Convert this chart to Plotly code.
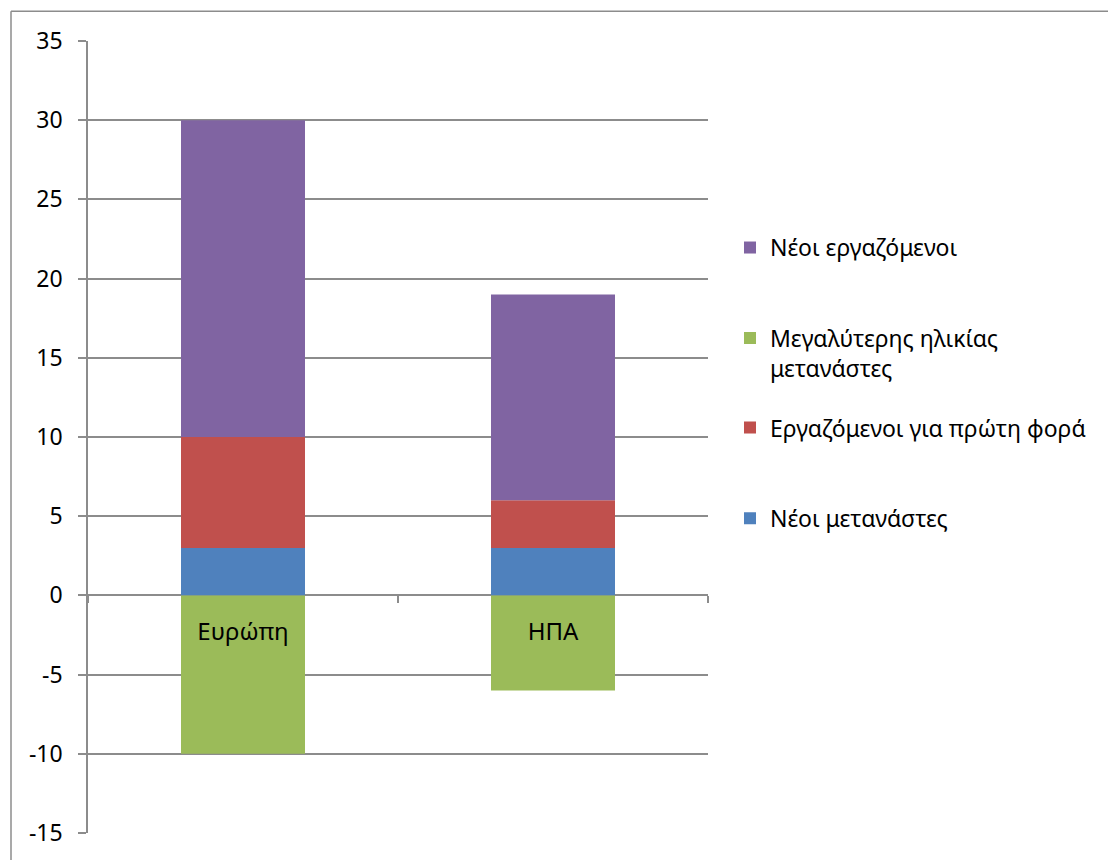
import plotly.graph_objects as go

categories = ["Ευρώπη", "ΗΠΑ"]
series_names = ["Νέοι μετανάστες", "Εργαζόμενοι για πρώτη φορά",
                "Μεγαλύτερης ηλικίας<br>μετανάστες", "Νέοι εργαζόμενοι"]
new_migrants = [3, 3]
first_time_workers = [7, 3]
older_migrants = [-10, -6]
young_workers = [20, 13]
colors = ["#4F81BD", "#C0504D", "#9BBB59", "#8064A2"]
y_ticks = [-15, -10, -5, 0, 5, 10, 15, 20, 25, 30, 35]
y_tick_text = ["-15", "-10", "-5", "0", "5", "10", "15", "20", "25", "30", "35"]

values = [new_migrants, first_time_workers, older_migrants, young_workers]

FONT = "Noto Sans"
L, R, T, B = 88, 400, 41, 23
W, H = 1108, 860
pw = W - L - R
ph = H - T - B
GRID = "#8c8c8c"

# one legend box per series (pixel top of each entry)
legend_ids = ["legend4", "legend3", "legend2", "legend"]
legend_tops = [499, 408, 318, 227]

fig = go.Figure()
for name, vals, col, lid in zip(series_names, values, colors, legend_ids):
    fig.add_trace(go.Bar(x=categories, y=vals, name=name, marker_color=col,
                         marker_line_width=0, legend=lid))

legend_layouts = {}
for lid, top in zip(legend_ids, legend_tops):
    legend_layouts[lid] = dict(x=(730 - L) / pw, y=(ph - (top - T)) / ph,
                               xanchor="left", yanchor="top", valign="top",
                               font=dict(size=23, family=FONT), itemwidth=30,
                               bgcolor="rgba(0,0,0,0)")

fig.update_layout(
    width=W, height=H,
    barmode="relative", bargap=0.6,
    margin=dict(l=L, r=R, t=T, b=B),
    paper_bgcolor="white", plot_bgcolor="white",
    font=dict(family=FONT, color="black", size=20),
    showlegend=True,
    xaxis=dict(type="category", anchor="free", position=15 / 50,
               categoryarray=categories, range=[-0.5, 1.5],
               showline=True, linecolor=GRID, linewidth=1.5,
               ticks="outside", ticklen=7, tickcolor=GRID, tickwidth=1.5,
               tickson="boundaries", showgrid=False, layer="below traces",
               showticklabels=False),
    xaxis2=dict(type="category", overlaying="x", anchor="free", position=15 / 50,
                categoryarray=categories, range=[-0.5, 1.5], side="bottom",
                showline=False, ticks="", showgrid=False, layer="above traces",
                tickvals=categories, ticktext=categories,
                tickfont=dict(size=24, family=FONT), ticklabelstandoff=20),
    yaxis=dict(range=[-15, 35], tickvals=y_ticks, ticktext=y_tick_text, showgrid=True,
               gridcolor=GRID, gridwidth=1.5, zeroline=False,
               showline=True, linecolor=GRID, linewidth=1.5,
               ticks="outside", ticklen=8, tickcolor=GRID, tickwidth=1.5,
               tickfont=dict(size=23, family=FONT), ticklabelstandoff=11,
               layer="below traces"),
    **legend_layouts,
)

# invisible trace so the label axis (x2) is drawn
fig.add_trace(go.Scatter(x=categories, y=[0, 0], xaxis="x2", yaxis="y", mode="none",
                         showlegend=False, hoverinfo="skip"))

# outer chart border
fig.add_shape(type="line", xref="paper", yref="paper",
              x0=(11 - L) / pw, x1=(11 - L) / pw, y0=-0.2, y1=(H - B - 11) / ph,
              line=dict(color=GRID, width=1.5))
fig.add_shape(type="line", xref="paper", yref="paper",
              x0=(11 - L) / pw, x1=2.0, y0=(H - B - 11) / ph, y1=(H - B - 11) / ph,
              line=dict(color=GRID, width=1.5))

fig.write_html("out.html", config={"displayModeBar": False},
               post_script="document.body.style.margin='0';")
